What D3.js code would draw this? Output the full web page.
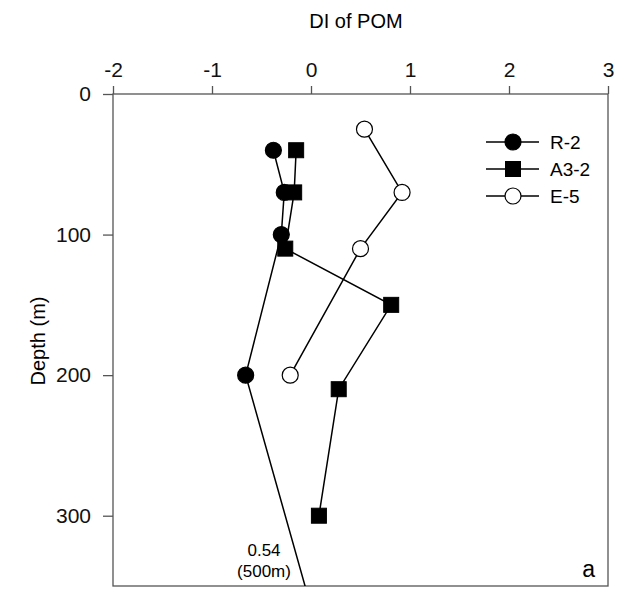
<!DOCTYPE html>
<html>
<head>
  <meta charset="utf-8">
  <script src="https://cdn.jsdelivr.net/npm/d3@7"></script>
  <style type="text/css">
    body {
      margin: 0;
      background: #fff;
      font-family: Arial, "Liberation Sans", Helvetica, sans-serif;
    }
    .axis path, .axis line {
      stroke: #555;
      stroke-width: 1.3;
    }
    .axis text {
      font-size: 21px;
      fill: #111;
    }
  </style>
</head>
<body>
  <svg id="chart" width="619" height="590"></svg>
  <script type="text/javascript">

  // depth (m) and DI of POM for each station
  const r2Depth = [40, 70, 100, 200, 500];
  const r2DI = [-0.38, -0.27, -0.3, -0.66, 0.54];
  const a32Depth = [40, 70, 110, 150, 210, 300];
  const a32DI = [-0.15, -0.17, -0.26, 0.81, 0.28, 0.08];
  const e5Depth = [25, 70, 110, 200];
  const e5DI = [0.54, 0.92, 0.5, -0.21];

  const xTicks = [-2, -1, 0, 1, 2, 3];
  const yTicks = [0, 100, 200, 300];

  const margin = {top: 94, left: 113, right: 11, bottom: 4};
  const width = 619 - margin.left - margin.right;
  const height = 590 - margin.top - margin.bottom;

  const svg = d3.select('#chart');
  const g = svg.append('g')
    .attr('transform', `translate(${margin.left},${margin.top})`);

  const x = d3.scaleLinear().domain([-2, 3]).range([0, width]);
  const y = d3.scaleLinear().domain([0, 350]).range([0, height]);

  g.append('clipPath').attr('id', 'plotclip')
    .append('rect').attr('width', width).attr('height', height);

  // frame
  g.append('rect')
    .attr('width', width).attr('height', height)
    .attr('fill', 'none').attr('stroke', '#555').attr('stroke-width', 1.3);

  g.append('g').attr('class', 'axis')
    .call(d3.axisTop(x).tickValues(xTicks).tickSize(8).tickPadding(9).tickFormat(d => String(d)))
    .call(a => a.select('.domain').remove());

  g.append('g').attr('class', 'axis')
    .call(d3.axisLeft(y).tickValues(yTicks).tickSize(10).tickPadding(12))
    .call(a => a.select('.domain').remove());

  svg.append('text')
    .attr('x', 356).attr('y', 28)
    .attr('text-anchor', 'middle').attr('font-size', 20).text('DI of POM');

  svg.append('text')
    .attr('transform', 'translate(45,341) rotate(-90)')
    .attr('text-anchor', 'middle').attr('font-size', 20).text('Depth (m)');

  const series = [
    {name: 'R-2', depth: r2Depth, di: r2DI, shape: 'circle', fill: '#000'},
    {name: 'A3-2', depth: a32Depth, di: a32DI, shape: 'square', fill: '#000'},
    {name: 'E-5', depth: e5Depth, di: e5DI, shape: 'circle', fill: '#fff'}
  ];

  const line = d3.line().x(d => x(d[1])).y(d => y(d[0]));

  function drawMarker(sel, s) {
    if (s.shape === 'circle') {
      sel.append('circle').attr('r', 8)
        .attr('fill', s.fill).attr('stroke', '#000').attr('stroke-width', 1.2);
    } else {
      sel.append('rect').attr('x', -7.5).attr('y', -7.5).attr('width', 15).attr('height', 15)
        .attr('fill', s.fill).attr('stroke', '#000').attr('stroke-width', 1);
    }
  }

  series.forEach(s => {
    const pts = s.depth.map((d, i) => [d, s.di[i]]);
    g.append('path')
      .attr('d', line(pts))
      .attr('clip-path', 'url(#plotclip)')
      .attr('fill', 'none').attr('stroke', '#000').attr('stroke-width', 1.5);
  });

  series.forEach(s => {
    const pts = s.depth.map((d, i) => [d, s.di[i]]).filter(p => p[0] <= 350);
    g.selectAll(null).data(pts).enter().append('g')
      .attr('transform', p => `translate(${x(p[1])},${y(p[0])})`)
      .each(function() { drawMarker(d3.select(this), s); });
  });

  // legend
  const legend = g.append('g').attr('transform', 'translate(373,48)');
  series.forEach((s, i) => {
    const row = legend.append('g').attr('transform', `translate(0,${i * 27})`);
    row.append('line').attr('x1', 0).attr('x2', 53)
      .attr('stroke', '#000').attr('stroke-width', 1.5);
    drawMarker(row.append('g').attr('transform', 'translate(27,0)'), s);
    row.append('text').attr('x', 64).attr('y', 7)
      .attr('font-size', 19).text(s.name);
  });

  // annotation for the 500 m value off the bottom
  const note = g.append('text').attr('text-anchor', 'middle').attr('font-size', 17);
  note.append('tspan').attr('x', 151).attr('y', 462).text('0.54');
  note.append('tspan').attr('x', 151).attr('y', 483).text('(500m)');

  g.append('text')
    .attr('x', width - 13).attr('y', height - 9)
    .attr('text-anchor', 'end').attr('font-size', 23).text('a');
  </script>
</body>
</html>
